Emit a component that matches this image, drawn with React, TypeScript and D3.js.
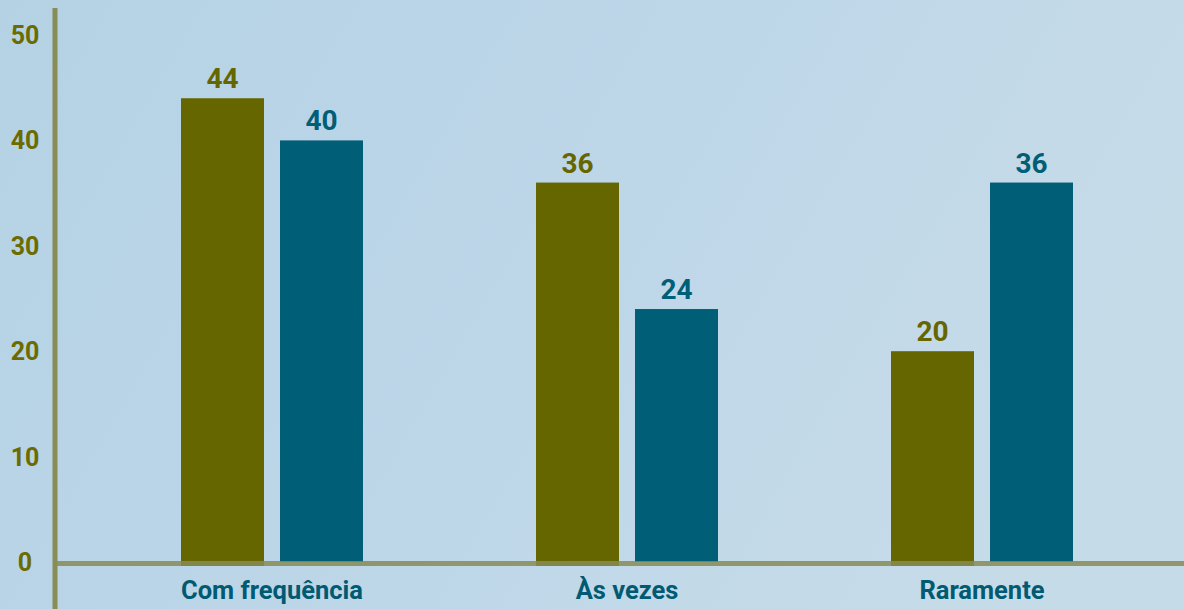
import React from "react";
import * as d3 from "d3";

const categories = ["Com frequência", "Às vezes", "Raramente"];
const seriesKeys = ["serieA", "serieB"];
const seriesA = [44, 36, 20];
const seriesB = [40, 24, 36];
const yTicks = [0, 10, 20, 30, 40, 50];

const W = 1184;
const H = 609;
const colors = ["#666600", "#005e76"];

export default function App() {
  const x = d3.scalePoint<string>().domain(categories).range([272, 982]);
  const xs = d3.scaleBand<string>().domain(seriesKeys).range([-91, 91]).paddingInner(0.1616);
  const y = d3.scaleLinear().domain([0, 50]).range([562, 35]);
  const bw = xs.bandwidth();
  const series = [seriesA, seriesB];

  return (
    <svg width={W} height={H} style={{ position: "absolute", left: 0, top: 0 }} fontFamily="Roboto, 'DejaVu Sans', sans-serif">
      <defs>
        <linearGradient id="bg" x1="0" y1="0" x2="1" y2="0.3">
          <stop offset="0" stopColor="#b5d2e5" />
          <stop offset="0.5" stopColor="#bcd6e8" />
          <stop offset="1" stopColor="#c6dbe8" />
        </linearGradient>
      </defs>
      <rect x={0} y={0} width={W} height={H} fill="url(#bg)" />
      {yTicks.map((t) => (
        <text key={t} x={25} y={y(t)} dy="0.36em" textAnchor="middle" fontSize={25} fontWeight={700} fill="#6b6b00">
          {t}
        </text>
      ))}
      {categories.map((c, i) => (
        <g key={c} transform={`translate(${x(c)},0)`}>
          {seriesKeys.map((k, j) => {
            const v = series[j][i];
            const bx = xs(k)!;
            return (
              <g key={k}>
                <rect x={bx} y={y(v)} width={bw} height={y(0) - y(v) + (j === 0 ? 4 : 0)} fill={colors[j]} />
                <text x={bx + bw / 2} y={y(v) - 10} textAnchor="middle" fontSize={28} fontWeight={700} fill={colors[j]}>
                  {v}
                </text>
              </g>
            );
          })}
        </g>
      ))}
      <line x1={57} x2={W} y1={563.5} y2={563.5} stroke="#888c55" strokeWidth={5} opacity={0.85} />
      <line x1={55} x2={55} y1={8} y2={H} stroke="#888c55" strokeWidth={5} />
      {categories.map((c) => (
        <text key={c} x={x(c)} y={599} textAnchor="middle" fontSize={25.5} fontWeight={700} fill="#005a72">
          {c}
        </text>
      ))}
    </svg>
  );
}
